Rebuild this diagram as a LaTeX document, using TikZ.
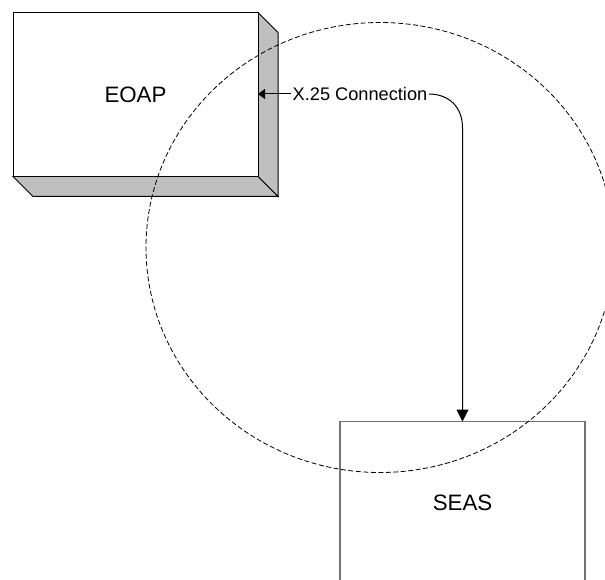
\documentclass[tikz,border=0pt]{standalone}
\usepackage{fontspec}
\setmainfont{Liberation Sans}
\usetikzlibrary{arrows.meta}
\tikzset{
 x=1pt,y=-1pt,
 edgeline/.style={draw=black,line width=1pt,line join=miter},
 sideface/.style={edgeline,fill=black!25},
 frontface/.style={edgeline,fill=white,minimum width=245pt,minimum height=164pt,inner sep=0pt,outer sep=0pt,font=\fontsize{22.3}{24}\selectfont},
 plainbox/.style={draw=black!55,line width=1.5pt,fill=white,minimum width=245pt,minimum height=180pt,inner sep=0pt,outer sep=0pt},
 boxname/.style={font=\fontsize{22.3}{24}\selectfont,inner sep=0pt},
 conlabel/.style={font=\fontsize{18.2}{20}\selectfont,inner sep=1.5pt,outer sep=0pt},
 conn/.style={draw=black,line width=1pt},
 ring/.style={draw=black,line width=0.8pt,dash pattern=on 5pt off 2.5pt}
}
\begin{document}
\begin{tikzpicture}
\useasboundingbox (0,0) rectangle (605,580);
\begin{scope}
\clip (0,0) rectangle (605,580);
\draw[sideface] (258,12.5) -- (278,32.5) -- (278,196.5) -- (258,176.5) -- cycle;
\draw[sideface] (13,176.5) -- (33,196.5) -- (278,196.5) -- (258,176.5) -- cycle;
\node[frontface] (eoap) at (135.5,94.5) {EOAP};
\node[plainbox,anchor=north] (seas) at (462.5,421.5) {};
\node[boxname] (seaslabel) at (462.5,503) {SEAS};
\node[conlabel] (x25) at (360,94) {X.25 Connection};
\coordinate (c1) at (462.5,128);
\draw[conn,-{Triangle[length=7pt,width=10pt]}] (x25.west) -- (eoap.east |- x25.west);
\draw[conn,-{Triangle[length=12pt,width=12pt]}] (x25.east) .. controls (448,94) and (462.5,106) .. (c1) -- (seas.north);
\draw[ring] (380,247.5) ellipse [x radius=234pt,y radius=225pt];
\end{scope}
\end{tikzpicture}
\end{document}
